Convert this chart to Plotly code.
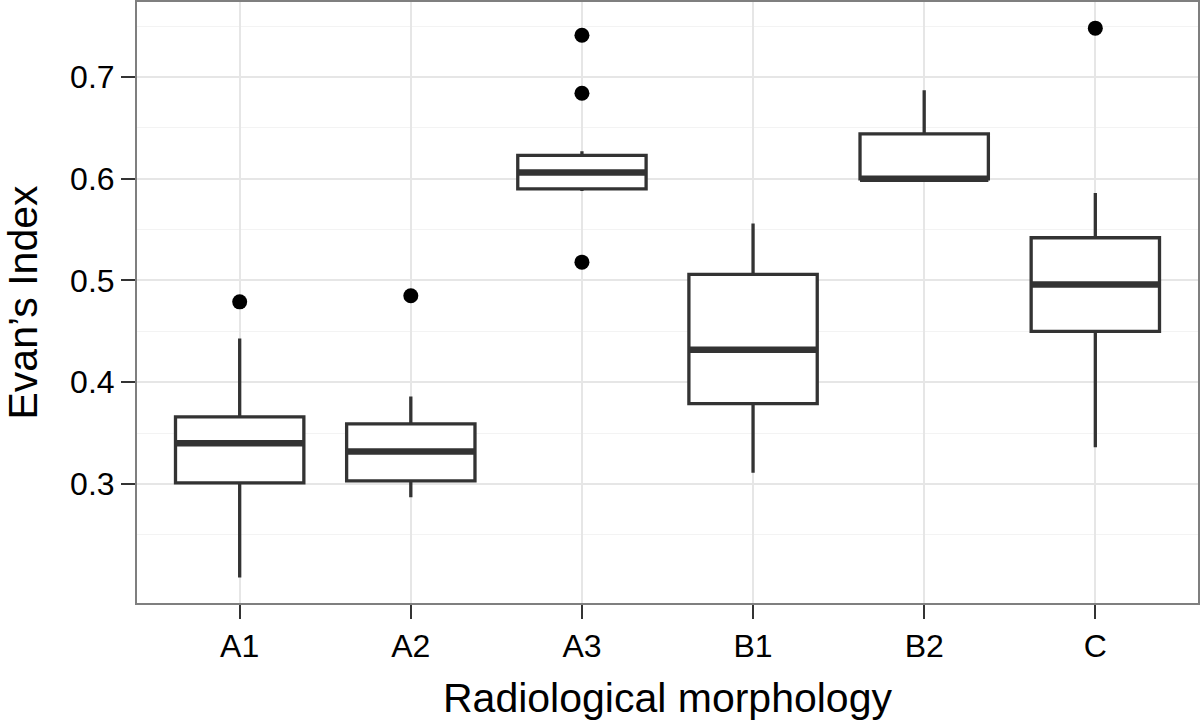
import plotly.graph_objects as go

categories = ["A1", "A2", "A3", "B1", "B2", "C"]
q1_vals = [0.301, 0.303, 0.590, 0.379, 0.600, 0.450]
median_vals = [0.340, 0.332, 0.606, 0.432, 0.600, 0.496]
q3_vals = [0.366, 0.359, 0.623, 0.506, 0.644, 0.542]
lower_whisker = [0.208, 0.287, 0.588, 0.311, 0.600, 0.336]
upper_whisker = [0.443, 0.386, 0.627, 0.556, 0.687, 0.586]

outlier_cats = ["A1", "A2", "A3", "A3", "A3", "C"]
outlier_vals = [0.479, 0.485, 0.741, 0.684, 0.518, 0.748]

y_ticks = [0.3, 0.4, 0.5, 0.6, 0.7]
y_minor = [0.25, 0.35, 0.45, 0.55, 0.65, 0.75]

FONT = "Liberation Sans, Arial, Helvetica, sans-serif"
LINE = "#333333"
BOX_W = 0.75

fig = go.Figure()
fig.add_trace(go.Box(
    x=categories,
    q1=q1_vals,
    median=median_vals,
    q3=q3_vals,
    lowerfence=lower_whisker,
    upperfence=upper_whisker,
    width=BOX_W,
    whiskerwidth=0,
    fillcolor="white",
    line=dict(color=LINE, width=3.3),
    boxpoints=False,
    hoverinfo="skip",
    showlegend=False,
))

# thicker median bars (as ggplot draws them)
for i, m in enumerate(median_vals):
    fig.add_shape(type="line", xref="x", yref="y",
                  x0=i - BOX_W / 2, x1=i + BOX_W / 2, y0=m, y1=m,
                  line=dict(color=LINE, width=6.5), layer="above")

fig.add_trace(go.Scatter(
    x=outlier_cats, y=outlier_vals, mode="markers",
    marker=dict(color="black", size=15),
    showlegend=False, hoverinfo="skip",
))

fig.update_layout(
    width=1200, height=723,
    margin=dict(l=137, r=2, t=2, b=120),
    paper_bgcolor="white", plot_bgcolor="white",
    font=dict(family=FONT, color="black"),
    showlegend=False,
)
fig.update_xaxes(
    type="category", categoryorder="array", categoryarray=categories,
    range=[-0.6, 5.6], automargin=False,
    showgrid=True, gridcolor="#e6e6e6", gridwidth=1.5,
    showline=True, mirror=True, linecolor="#7f7f7f", linewidth=2,
    ticks="outside", ticklen=14, tickwidth=1.5, tickcolor="#333333",
    tickfont=dict(size=32, color="black", family=FONT),
    title=dict(text="Radiological morphology", font=dict(size=41, family=FONT), standoff=20),
    zeroline=False,
)
fig.update_yaxes(
    range=[0.183, 0.7737], automargin=False,
    tickmode="array", tickvals=y_ticks, ticktext=[f"{v:.1f}" for v in y_ticks],
    showgrid=True, gridcolor="#e6e6e6", gridwidth=1.5,
    minor=dict(tickmode="array", tickvals=y_minor, showgrid=True,
               gridcolor="#f3f3f3", gridwidth=1.2, ticks=""),
    showline=True, mirror=True, linecolor="#7f7f7f", linewidth=2,
    ticks="outside", ticklen=14, tickwidth=1.5, tickcolor="#333333",
    tickfont=dict(size=32, color="black", family=FONT),
    title=dict(text="Evan’s Index", font=dict(size=41, family=FONT), standoff=30),
    zeroline=False,
)

fig.write_html("out.html", config={"displayModeBar": False},
               post_script="document.body.style.margin='0px';")
